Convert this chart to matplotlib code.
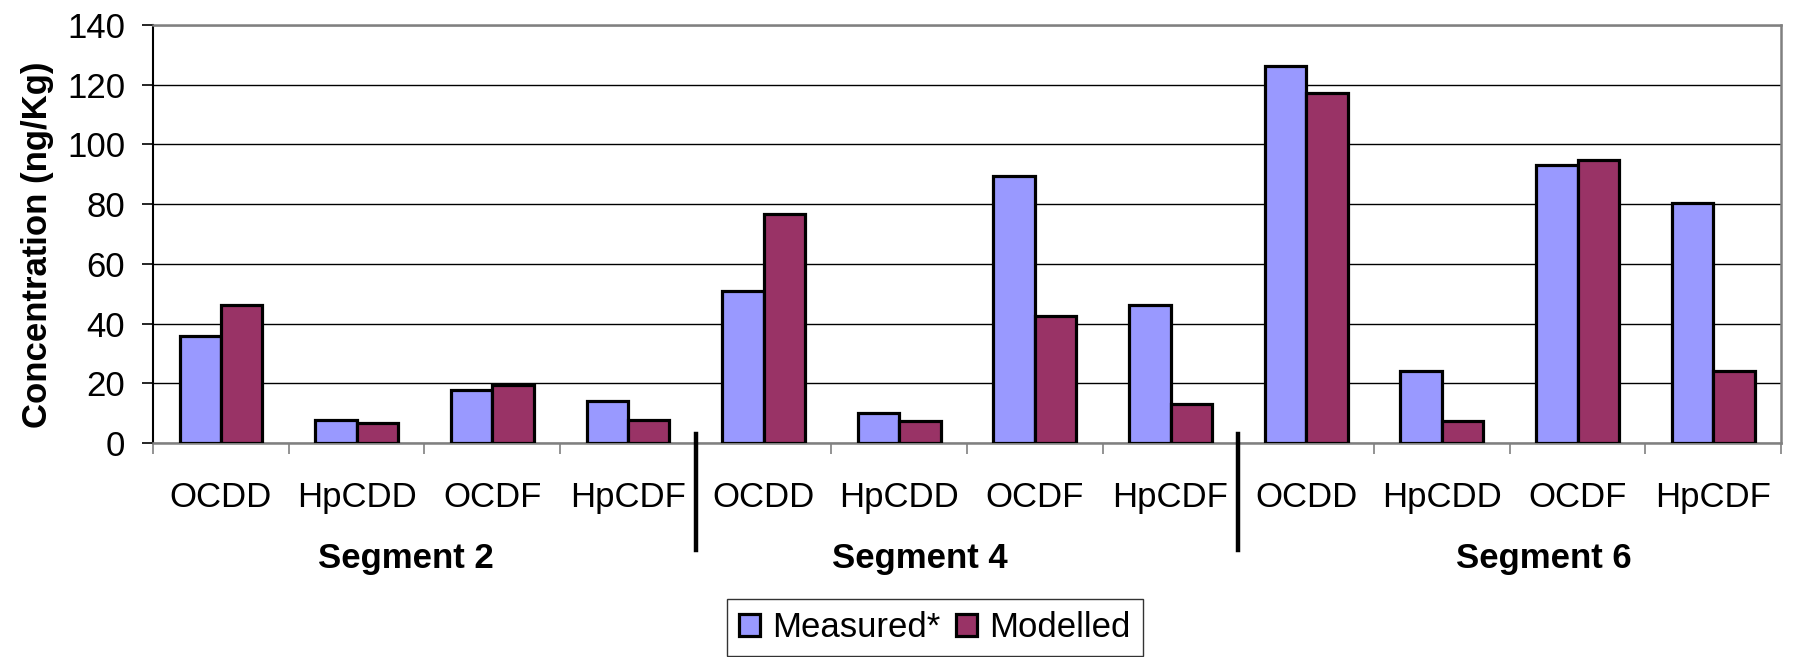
import numpy as np
import matplotlib
matplotlib.use("Agg")
import matplotlib.pyplot as plt

plt.rcParams['font.family'] = ['Liberation Sans', 'DejaVu Sans']

compounds = ["OCDD", "HpCDD", "OCDF", "HpCDF"]
segments = ["Segment 2", "Segment 4", "Segment 6"]
measured = [36, 7.6, 17.8, 14, 50.8, 10.2, 89.4, 46.2, 126.2, 24.2, 93, 80.3]
modelled = [46.3, 6.6, 19.4, 7.6, 76.6, 7.5, 42.6, 13.1, 117.1, 7.5, 94.8, 24.2]
yticks = [0, 20, 40, 60, 80, 100, 120, 140]
# where the segment names sit (in category units)
seg_label_x = [1.36, 5.15, 9.75]

labels = compounds * len(segments)
x = np.arange(len(labels))
w = 0.305

fig = plt.figure(figsize=(18.05, 6.57), dpi=100)
ax = fig.add_axes([0.0848, 0.3257, 0.9019, 0.6363])

ax.bar(x - w / 2, measured, w, color="#9999FF", edgecolor="black", linewidth=2.3,
       label="Measured*", zorder=3)
ax.bar(x + w / 2, modelled, w, color="#993366", edgecolor="black", linewidth=2.3,
       label="Modelled", zorder=3)

ax.set_xlim(-0.5, len(labels) - 0.5)
ax.set_ylim(0, 140)
ax.set_yticks(yticks)
ax.yaxis.grid(True, color="black", linewidth=1.0, zorder=0)
ax.tick_params(axis="y", labelsize=25, length=8, width=1.2, pad=12, direction="out")

ax.set_xticks(x)
ax.set_xticklabels(labels)
ax.tick_params(axis="x", which="major", length=0, labelsize=25, pad=27)
ax.set_xticks(np.arange(-0.5, len(labels), 1), minor=True)
ax.tick_params(axis="x", which="minor", length=8, width=1.2, color="#808080")

for side in ["top", "right", "bottom"]:
    ax.spines[side].set_color("#808080")
    ax.spines[side].set_linewidth(1.8)
ax.spines["left"].set_color("black")
ax.spines["left"].set_linewidth(1.5)

ax.set_ylabel("Concentration (ng/Kg)", fontsize=25, fontweight="bold")
ax.yaxis.set_label_coords(-0.061, 0.475)

trans = ax.get_xaxis_transform()
for b in [3.5, 7.5]:
    ax.plot([b, b], [0.022, -0.256], transform=trans, color="black",
            linewidth=3.2, clip_on=False, zorder=5)

for sx, name in zip(seg_label_x, segments):
    ax.text(sx, -0.298, name, transform=trans, ha="center", va="baseline",
            fontsize=25, fontweight="bold")

leg = ax.legend(loc="upper left", bbox_to_anchor=(0.4028, 0.0883), bbox_transform=fig.transFigure,
                ncol=2, fontsize=25, frameon=True, fancybox=False, edgecolor="black",
                handlelength=0.6, handleheight=0.6, handletextpad=0.35, columnspacing=0.45,
                borderpad=0.35, borderaxespad=0)
leg.get_frame().set_linewidth(1.0)

fig.savefig("out.png", dpi=100)
